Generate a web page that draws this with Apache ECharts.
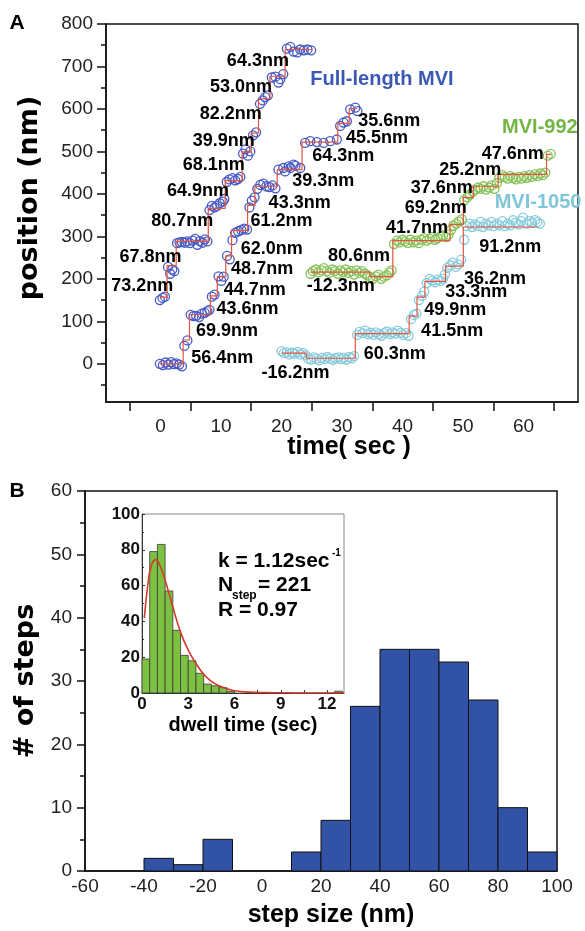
<!DOCTYPE html>
<html>
<head>
<meta charset="utf-8">
<style>
  html, body { margin: 0; padding: 0; background: #fff; }
  #chart { width: 585px; height: 931px; }
</style>
<script src="https://cdn.jsdelivr.net/npm/echarts@6/dist/echarts.min.js"></script>
</head>
<body>
<div id="chart"></div>
<script>
// ---- panel A : traces (time s, position nm) ----
const fullLengthA = [[-0.1,150],[0.35,155],[0.75,158],[1.25,228],[1.6,212],[1.95,222],[2.3,218],[2.75,284],[3.15,286],[3.55,287],[4.0,285],[4.4,288],[4.85,284],[5.3,290],[5.75,294],[6.1,280],[6.5,289],[6.95,285],[7.35,293],[7.75,288],[8.1,362],[8.5,372],[8.95,368],[9.35,372],[9.8,378],[10.3,382],[10.55,388],[10.95,428],[11.4,434],[11.9,437],[12.35,432],[12.8,435],[13.2,440],[13.65,495],[14.05,505],[14.45,490],[14.85,500],[15.3,538],[15.8,545],[16.45,612],[16.9,620],[17.3,628],[17.75,632],[18.4,674],[19.0,676],[19.5,662],[19.8,670],[20.3,682],[20.9,742],[21.45,746],[22.0,735],[22.6,733],[23.1,740],[23.7,738],[24.3,740],[24.9,738]];
const fullLengthASteps = [[-0.1,157],[1.1,231],[2.6,288],[7.9,366],[10.7,431],[13.5,499],[15.0,543],[16.2,624],[18.1,677],[20.6,740],[25.0,740]];

const fullLengthB = [[-0.1,0],[0.4,-3],[0.85,3],[1.3,-2],[1.75,4],[2.2,-1],[2.65,1],[3.1,-2],[3.55,-6],[3.95,42],[4.45,55],[5.0,115],[5.45,112],[5.9,113],[6.4,110],[6.85,118],[7.3,120],[7.75,124],[8.1,127],[8.5,158],[8.95,163],[9.6,206],[10.05,195],[10.45,205],[11.0,254],[11.45,246],[11.9,291],[12.35,308],[12.85,312],[13.35,315],[13.85,318],[14.3,316],[14.7,368],[15.1,384],[15.55,392],[16.0,412],[16.5,421],[17.0,424],[17.5,418],[18.0,416],[18.5,420],[19.0,413],[19.5,457],[20.3,461],[20.6,453],[21.2,465],[21.5,461],[22.0,469],[22.3,466],[23.1,461],[23.9,520],[24.75,524],[25.85,522],[26.95,520],[28.05,524],[29.15,528],[29.7,560],[30.25,568],[30.8,571],[31.35,599],[32.2,603],[32.55,595]];
const fullLengthBSteps = [[-0.1,0],[3.75,56],[4.8,116],[8.25,160],[9.4,205],[10.8,254],[11.75,314],[14.4,373],[15.6,418],[19.3,457],[23.4,522],[29.3,566],[31.2,601],[32.5,601]];

const mvi1050 = [[20.0,30],[20.4,25],[20.9,27],[21.3,22],[21.8,26],[22.2,24],[22.7,28],[23.1,22],[23.6,25],[24.0,20],[24.4,12],[24.9,10],[25.3,15],[25.8,12],[26.2,8],[26.7,14],[27.1,11],[27.6,16],[28.0,12],[28.5,9],[28.9,13],[29.4,15],[29.8,11],[30.3,14],[30.7,10],[31.2,16],[31.6,13],[32.0,18],[32.5,68],[32.9,75],[33.4,72],[33.8,78],[34.3,70],[34.7,73],[35.2,68],[35.6,74],[36.1,70],[36.5,66],[37.0,72],[37.4,76],[37.9,70],[38.3,74],[38.8,71],[39.2,78],[39.7,73],[40.1,68],[40.6,72],[41.0,66],[41.4,105],[41.9,115],[42.3,118],[42.7,150],[43.2,160],[43.6,170],[44.0,190],[44.5,200],[44.9,196],[45.4,192],[45.8,198],[46.3,195],[46.7,200],[47.0,210],[47.4,226],[47.9,232],[48.3,238],[48.8,228],[49.2,234],[49.7,245],[50.2,292],[50.6,324],[51.1,330],[51.5,322],[52.0,328],[52.4,324],[52.9,334],[53.3,322],[53.8,330],[54.2,326],[54.7,334],[55.1,324],[55.6,330],[56.0,326],[56.5,336],[56.9,324],[57.4,330],[57.8,326],[58.3,338],[58.7,332],[59.2,328],[59.6,336],[59.9,344],[60.5,330],[61.0,336],[61.4,332],[61.9,338],[62.3,334],[62.7,330]];
const mvi1050Steps = [[20.0,25],[24.1,13],[32.2,71],[41.1,112],[42.4,157],[43.7,194],[47.1,230],[50.05,322],[62.3,322]];

const mvi992 = [[24.8,212],[25.2,218],[25.7,222],[26.1,215],[26.6,220],[27.0,225],[27.5,218],[27.9,214],[28.4,222],[28.8,218],[29.3,212],[29.7,220],[30.2,216],[30.6,222],[31.1,214],[31.5,218],[32.0,210],[32.4,220],[32.9,214],[33.3,218],[33.8,212],[34.2,208],[34.7,204],[35.1,200],[35.6,206],[36.0,210],[36.5,200],[36.9,205],[37.4,208],[37.8,215],[38.2,220],[38.6,282],[39.1,290],[39.5,286],[40.0,292],[40.4,288],[40.9,284],[41.3,292],[41.8,286],[42.2,290],[42.7,284],[43.1,292],[43.6,296],[44.0,290],[44.5,294],[44.9,298],[45.4,292],[45.8,296],[46.3,300],[46.7,302],[47.2,298],[47.6,304],[48.0,315],[48.4,325],[48.9,330],[49.3,335],[49.8,340],[50.2,385],[50.7,392],[51.1,398],[51.6,405],[52.0,410],[52.5,415],[52.9,412],[53.4,418],[53.8,410],[54.3,415],[54.7,420],[55.2,412],[55.6,425],[56.0,438],[56.5,444],[56.9,440],[57.4,436],[57.8,442],[58.3,438],[58.7,434],[59.2,440],[59.6,436],[60.1,442],[60.5,438],[61.0,444],[61.4,440],[61.9,446],[62.3,442],[62.8,448],[63.2,444],[63.6,450],[64.0,490],[64.5,494]];
const mvi992Steps = [[24.75,216],[34.65,205],[38.4,290],[47.85,328],[50.05,391],[51.7,418],[55.8,446],[63.8,493],[64.6,493]];

const stepNotes = [
  ['64.3nm',16.1,712],['53.0nm',13.3,652],['82.2nm',11.6,587],['39.9nm',10.45,524],
  ['68.1nm',8.8,469],['64.9nm',6.2,406],['80.7nm',3.6,336],['67.8nm',-1.65,252],
  ['73.2nm',-3.0,182],['69.9nm',11.0,76],['56.4nm',10.2,13],['43.6nm',14.4,129],
  ['44.7nm',15.6,174],['48.7nm',16.8,223],['62.0nm',18.4,270],['61.2nm',20.0,335],
  ['43.3nm',23.0,379],['39.3nm',26.9,430],['64.3nm',30.2,489],['45.5nm',35.8,532],
  ['35.6nm',37.8,571],['47.6nm',58.2,495],['25.2nm',51.2,457],['37.6nm',46.5,414],
  ['69.2nm',45.5,367],['41.7nm',42.4,320],['80.6nm',32.8,253],['-12.3nm',29.8,182],
  ['91.2nm',57.8,274],['36.2nm',55.3,200],['33.3nm',52.2,168],['49.9nm',48.7,126],
  ['41.5nm',48.2,78],['60.3nm',38.7,24],['-16.2nm',22.3,-22]
];
const traceNames = [['Full-length MVI',36.6,670,'#3b58b4'],['MVI-992',62.7,556,'#72b644'],['MVI-1050',62.4,380,'#7fc5d8']];

const timeTicks = [0,10,20,30,40,50,60];
const timeMinor = [-5,5,15,25,35,45,55,65];
const posTicks = [0,100,200,300,400,500,600,700,800];
const posMinor = [-50,50,150,250,350,450,550,650,750];

// ---- panel B : step size histogram ----
const stepBins = [-60,-50,-40,-30,-20,-10,0,10,20,30,40,50,60,70,80,90];
const stepCounts = [0,0,2,1,5,0,0,3,8,26,35,35,33,27,10,3];

// ---- inset : dwell time histogram + fit ----
const dwellBins = [0,0.5,1,1.5,2,2.5,3,3.5,4,4.5,5,5.5,6,12.5];
const dwellCounts = [19,79,83,57,35,21,18,11,5,4,3,1,0,1];
const fitT = [0.15,0.4,0.6,0.87,1.1,1.5,2,2.5,3,3.5,4,4.5,5,5.5,6,7,8,9,10,11,12,13.1];
const fitY = [42,62,71,74.5,72.5,63,48,34,24,16.5,10.5,6.5,4,2.5,1.3,0.5,0.2,0.1,0,0,0,0];
const dwellTicks = [0,3,6,9,12];
const dwellMinor = [1.5,3,4.5,6,7.5,9,10.5,12];

const RED = '#e2553f';
const SANS = 'Liberation Sans, Arial, sans-serif';
const DJ = 'DejaVu Sans, sans-serif';
const INK = '#111';

const chart = echarts.init(document.getElementById('chart'), null, { renderer: 'canvas' });

function dots (data, color) {
  return {
    type: 'scatter', xAxisIndex: 0, yAxisIndex: 0, data: data,
    symbol: 'circle', symbolSize: 9, silent: true, z: 2,
    itemStyle: { color: 'rgba(255,255,255,0)', borderColor: color, borderWidth: 1.3, opacity: 1 }
  }
}
function steps (data) {
  return {
    type: 'line', xAxisIndex: 0, yAxisIndex: 0, data: data, step: 'end',
    symbol: 'none', silent: true, z: 3,
    lineStyle: { color: RED, width: 1.2 }
  }
}
function hist (xi, yi, bins, width, counts, fill, stroke, lw) {
  return {
    type: 'custom', xAxisIndex: xi, yAxisIndex: yi, silent: true,
    data: bins.map((b, i) => [b, b + width, counts[i]]).filter(d => d[2] > 0),
    renderItem: function (params, api) {
      const a = api.coord([api.value(0), api.value(2)])
      const b = api.coord([api.value(1), 0])
      return {
        type: 'rect',
        shape: { x: a[0], y: a[1], width: b[0] - a[0], height: b[1] - a[1] },
        style: { fill: fill, stroke: stroke, lineWidth: lw }
      }
    }
  }
}
function txt (text, x, y, font, opts) {
  opts = opts || {}
  return {
    type: 'text', x: x, y: y, rotation: opts.rot || 0, silent: true, z: 10,
    style: {
      text: text, font: font, fill: opts.color || '#000',
      align: opts.align || 'center', verticalAlign: 'middle',
      textAlign: opts.align || 'center', textVerticalAlign: 'middle'
    }
  }
}

const tickLabel = { fontFamily: SANS, fontSize: 19, color: '#222' }
const noteLabel = { fontFamily: SANS, fontWeight: 'bold', color: '#000', opacity: 1, textBorderWidth: 0 }

const option = {
  animation: false,
  grid: [
    { left: 106, top: 24, width: 472, height: 378, show: true, borderColor: INK, borderWidth: 1.5 },
    { left: 85, top: 491, width: 472, height: 380, show: true, borderColor: INK, borderWidth: 1.5 },
    { left: 142, top: 514, width: 202, height: 179, show: true, borderColor: '#8a8a8a', borderWidth: 1 }
  ],
  xAxis: [
    {
      gridIndex: 0, type: 'value', min: -9, max: 69,
      axisLine: { onZero: false, lineStyle: { color: INK, width: 1.5 } },
      axisTick: { customValues: timeMinor, length: 9, lineStyle: { color: INK, width: 1.5 } },
      axisLabel: Object.assign({ customValues: timeTicks, margin: 15 }, tickLabel),
      splitLine: { show: false }
    },
    {
      gridIndex: 1, type: 'value', min: -60, max: 100, interval: 20,
      axisLine: { onZero: false, lineStyle: { color: INK, width: 1.5 } },
      axisTick: { show: false },
      axisLabel: Object.assign({ margin: 6 }, tickLabel),
      splitLine: { show: false }
    },
    {
      gridIndex: 2, type: 'value', min: 0, max: 13.1,
      axisLine: { onZero: false, lineStyle: { color: '#333', width: 1 } },
      axisTick: { customValues: dwellMinor, inside: true, length: 3, lineStyle: { color: '#333' } },
      axisLabel: { customValues: dwellTicks, margin: 3, fontFamily: SANS, fontSize: 17, fontWeight: 'bold', color: '#111' },
      splitLine: { show: false }
    }
  ],
  yAxis: [
    {
      gridIndex: 0, type: 'value', min: -90, max: 800, position: 'left',
      axisLine: { onZero: false, lineStyle: { color: INK, width: 1.5 } },
      axisTick: { customValues: posTicks, length: 9, lineStyle: { color: INK, width: 1.5 } },
      axisLabel: Object.assign({ customValues: posTicks, margin: 13 }, tickLabel),
      splitLine: { show: false }
    },
    {
      gridIndex: 0, type: 'value', min: -90, max: 800, position: 'left',
      axisLine: { show: false, onZero: false },
      axisTick: { customValues: posMinor, length: 5, lineStyle: { color: INK, width: 1.5 } },
      axisLabel: { show: false },
      splitLine: { show: false }
    },
    {
      gridIndex: 1, type: 'value', min: 0, max: 60, interval: 10,
      axisLine: { onZero: false, lineStyle: { color: INK, width: 1.5 } },
      axisTick: { length: 8, lineStyle: { color: INK, width: 1.5 } },
      minorTick: { show: true, splitNumber: 2, length: 5, lineStyle: { color: INK, width: 1.5 } },
      axisLabel: Object.assign({ margin: 13 }, tickLabel),
      splitLine: { show: false }
    },
    {
      gridIndex: 2, type: 'value', min: 0, max: 100, interval: 20,
      axisLine: { onZero: false, lineStyle: { color: '#333', width: 1 } },
      axisTick: { inside: true, length: 3, lineStyle: { color: '#333' } },
      minorTick: { show: true, splitNumber: 2, length: 2, lineStyle: { color: '#333' } },
      axisLabel: { margin: 2, fontFamily: SANS, fontSize: 17, fontWeight: 'bold', color: '#111' },
      splitLine: { show: false }
    }
  ],
  series: [
    dots(fullLengthA, '#4759c4'),
    dots(fullLengthB, '#4759c4'),
    dots(mvi1050, '#86cbde'),
    dots(mvi992, '#86c256'),
    steps(fullLengthASteps),
    steps(fullLengthBSteps),
    steps(mvi1050Steps),
    steps(mvi992Steps),
    {
      type: 'scatter', xAxisIndex: 0, yAxisIndex: 0, symbolSize: 1, silent: true, z: 5,
      itemStyle: { color: 'rgba(0,0,0,0)', opacity: 1 },
      data: stepNotes.map(n => ({ value: [n[1], n[2]], name: n[0] })),
      label: Object.assign({ show: true, position: 'inside', formatter: p => p.name, fontSize: 18 }, noteLabel)
    },
    {
      type: 'scatter', xAxisIndex: 0, yAxisIndex: 0, symbolSize: 1, silent: true, z: 5,
      itemStyle: { color: 'rgba(0,0,0,0)', opacity: 1 },
      data: traceNames.map(n => ({
        value: [n[1], n[2]], name: n[0],
        label: { color: n[3] }
      })),
      label: Object.assign({ show: true, position: 'inside', formatter: p => p.name, fontSize: 20 }, noteLabel, { color: undefined })
    },
    hist(1, 2, stepBins, 10, stepCounts, '#3252a6', '#111', 1),
    hist(2, 3, dwellBins, 0.5, dwellCounts, '#7dc142', '#3a3a3a', 0.8),
    {
      type: 'line', xAxisIndex: 2, yAxisIndex: 3, smooth: true, symbol: 'none', silent: true, z: 4,
      data: fitT.map((t, i) => [t, fitY[i]]),
      lineStyle: { color: '#d23a2a', width: 1.6 }
    }
  ],
  graphic: [
    txt('A', 17, 23, 'bold 21px ' + SANS),
    txt('B', 17, 491, 'bold 21px ' + SANS),
    txt('position (nm)', 30, 198, 'bold 27px ' + DJ, { rot: Math.PI / 2 }),
    txt('time( sec )', 349, 447, 'bold 25px ' + SANS),
    txt('# of steps', 26, 681, 'bold 27px ' + DJ, { rot: Math.PI / 2 }),
    txt('step size (nm)', 331, 915, 'bold 25px ' + SANS),
    txt('dwell time (sec)', 243, 725, 'bold 20px ' + SANS),
    txt('k = 1.12sec', 218, 561, 'bold 21px ' + SANS, { align: 'left' }),
    txt('-1', 332, 553, 'bold 10px ' + SANS, { align: 'left' }),
    txt('N', 218, 585, 'bold 21px ' + SANS, { align: 'left' }),
    txt('step', 232, 596, 'bold 12px ' + SANS, { align: 'left' }),
    txt('= 221', 258, 585, 'bold 21px ' + SANS, { align: 'left' }),
    txt('R = 0.97', 218, 610, 'bold 21px ' + SANS, { align: 'left' })
  ]
}

chart.setOption(option)
</script>
</body>
</html>
